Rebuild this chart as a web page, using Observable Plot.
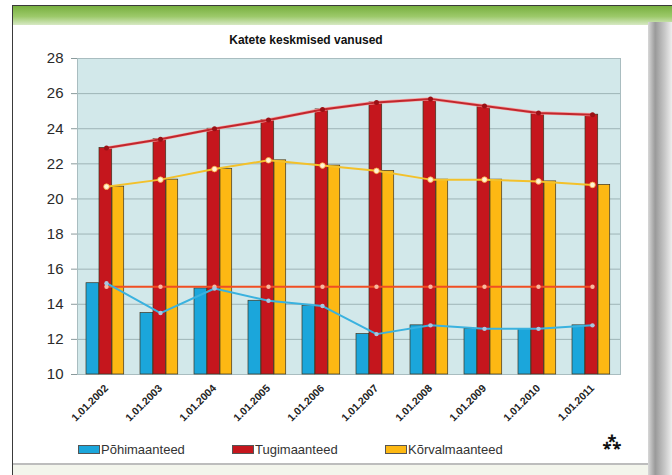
<!DOCTYPE html>
<html>
<head>
<meta charset="utf-8">
<script src="https://cdn.jsdelivr.net/npm/d3@7"></script>
<script src="https://cdn.jsdelivr.net/npm/@observablehq/plot@0.6"></script>
<style>
  html, body { margin: 0; padding: 0; background: #ffffff; }
  #wrap { position: relative; width: 672px; height: 475px; overflow: hidden; font-family: "Liberation Sans", Arial, sans-serif; background: #fff; }
  .abs { position: absolute; }
  #border { left: 12px; top: 5px; width: 660px; height: 470px; border-left: 1.5px solid #3a3a3a; border-top: 1.5px solid #3a3a3a; box-sizing: border-box; }
  #green { left: 13px; top: 6px; width: 659px; height: 19px; background: linear-gradient(#78b03f, #9cc96a 55%, #d7e9c4); }
  #rightshade { left: 648px; top: 22px; width: 24px; height: 453px; background: linear-gradient(to right, #d8d8d8, #9a9a9a 30%, #c8c8c8 70%, #eeeeee); }
  #bottomline { left: 13px; top: 463px; width: 635px; height: 2px; background: #bdbdbd; }
  #bottomfill { left: 13px; top: 465px; width: 635px; height: 10px; background: #f3f5ec; }
  #chart { left: 0; top: 0; }
  #title { left: 0; width: 612px; top: 33px; text-align: center; font-weight: bold; font-size: 12px; color: #111; }
  .leg { position: absolute; top: 442px; font-size: 13px; color: #333; white-space: nowrap; display: flex; align-items: center; }
  .sw { display: inline-block; width: 20px; height: 7px; margin-right: 1px; border: 0.5px solid #555; }
  #logo { left: 603px; top: 430px; font-size: 16px; font-weight: bold; color: #111; }
</style>
</head>
<body>
<div id="wrap">
  <div class="abs" id="border"></div>
  <div class="abs" id="green"></div>
  <div class="abs" id="rightshade"></div>
  <div class="abs" id="bottomline"></div>
  <div class="abs" id="bottomfill"></div>
  <div class="abs" id="chart"></div>
  <div class="abs" id="title">Katete keskmised vanused</div>
  <div class="leg" style="left:78px"><span class="sw" style="background:#1ba6db"></span>Põhimaanteed</div>
  <div class="leg" style="left:232px"><span class="sw" style="background:#c5161d"></span>Tugimaanteed</div>
  <div class="leg" style="left:385px"><span class="sw" style="background:#fdb813"></span>Kõrvalmaanteed</div>
  <div class="abs" id="logo">⁂</div>
</div>
<script>
const dates = ["1.01.2002","1.01.2003","1.01.2004","1.01.2005","1.01.2006","1.01.2007","1.01.2008","1.01.2009","1.01.2010","1.01.2011"];
const pohimaanteed = [15.2, 13.5, 14.9, 14.2, 13.9, 12.3, 12.8, 12.6, 12.6, 12.8];
const tugimaanteed = [22.9, 23.4, 24.0, 24.5, 25.1, 25.5, 25.7, 25.3, 24.9, 24.8];
const korvalmaanteed = [20.7, 21.1, 21.7, 22.2, 21.9, 21.6, 21.1, 21.1, 21.0, 20.8];
const norm = [15, 15, 15, 15, 15, 15, 15, 15, 15, 15];
const yTicks = [10, 12, 14, 16, 18, 20, 22, 24, 26, 28];

const rows = dates.map((d, i) => ({date: d, pohi: pohimaanteed[i], tugi: tugimaanteed[i], korval: korvalmaanteed[i], norm: norm[i]}));

const bw = (620 - 77) / dates.length;
const outline = "#3d3420";

const chart = Plot.plot({
  width: 672,
  height: 475,
  marginLeft: 77,
  marginRight: 52,
  marginTop: 58,
  marginBottom: 101,
  style: {background: "transparent", fontFamily: "'Liberation Sans', Arial, sans-serif"},
  x: {type: "band", domain: dates, padding: 0, axis: null, label: null},
  y: {domain: [10, 28], axis: null, label: null},
  marks: [
    Plot.frame({fill: "#d2e8ea", stroke: null}),
    Plot.gridY(yTicks, {stroke: "#9eb4b7", strokeOpacity: 1, strokeWidth: 1}),
    Plot.frame({stroke: "#a9bdc0", fill: null}),
    Plot.barY(rows, {x: "date", y1: 10, y2: "pohi", fill: "#1ba6db", stroke: outline, strokeWidth: 0.7, insetLeft: 7, insetRight: bw - 20}),
    Plot.barY(rows, {x: "date", y1: 10, y2: "tugi", fill: "#c5161d", stroke: outline, strokeWidth: 0.7, insetLeft: 20, insetRight: bw - 33}),
    Plot.barY(rows, {x: "date", y1: 10, y2: "korval", fill: "#fdb813", stroke: outline, strokeWidth: 0.7, insetLeft: 33, insetRight: bw - 45}),
    Plot.line(rows, {x: "date", y: "norm", stroke: "#f04e23", strokeWidth: 2}),
    Plot.line(rows, {x: "date", y: "pohi", stroke: "#3ab2df", strokeWidth: 2}),
    Plot.line(rows, {x: "date", y: "tugi", stroke: "#f6a0a0", strokeWidth: 3.2}),
    Plot.line(rows, {x: "date", y: "tugi", stroke: "#c1272d", strokeWidth: 2}),
    Plot.line(rows, {x: "date", y: "korval", stroke: "#f3c12b", strokeWidth: 2}),
    Plot.dot(rows, {x: "date", y: "norm", r: 2.2, fill: "#f7b9a0", stroke: null}),
    Plot.dot(rows, {x: "date", y: "pohi", r: 2.2, fill: "#a9c7e0", stroke: null}),
    Plot.dot(rows, {x: "date", y: "tugi", r: 2.5, fill: "#9a1015", stroke: null}),
    Plot.dot(rows, {x: "date", y: "korval", r: 2.8, fill: "#fff3d6", stroke: "#f7a43a", strokeWidth: 0.8}),
    Plot.axisY(yTicks, {tickSize: 6, tickPadding: 8, fontSize: 15, stroke: "#8a9a9c", fill: "#2a2a2a", label: null}),
    Plot.axisX({tickRotate: -45, tickSize: 0, tickPadding: 12, fontSize: 10.5, fontWeight: "bold", fill: "#222", label: null})
  ]
});
document.getElementById("chart").appendChild(chart);
</script>
</body>
</html>
